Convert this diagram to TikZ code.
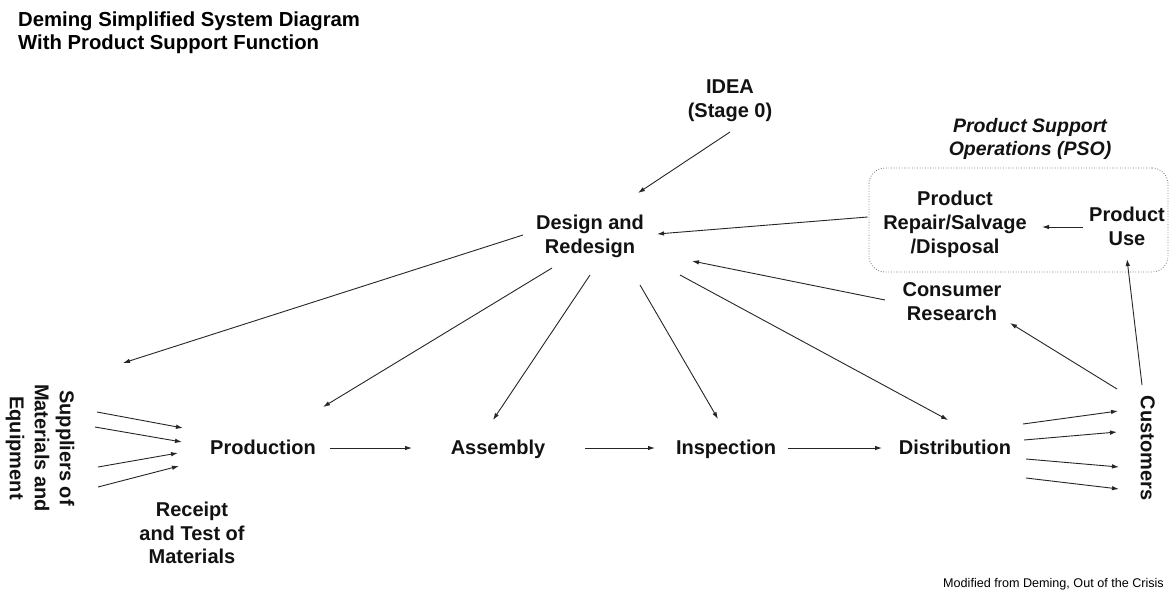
\documentclass[tikz,border=0pt]{standalone}
\usepackage{fontspec}
\setmainfont{Liberation Sans}
\usetikzlibrary{arrows.meta}
\begin{document}
\begin{tikzpicture}[x=1pt,y=-1pt,
  lbl/.style={font=\fontsize{20}{24}\selectfont\bfseries, align=center, inner sep=0pt, text=black!93},
  oneline/.style={text height=14.3pt, text depth=0pt},
  arr/.style={draw=black!85, line width=0.9pt, -{Latex[length=7pt,width=4.5pt]}},
  psoframe/.style={draw=black!55, line width=0.8pt, dash pattern=on 0.8pt off 1.8pt, rounded corners=16pt}]
\useasboundingbox (0,0) rectangle (1172,590);
\fill[white] (0,0) rectangle (1172,590);

% titles
\node[anchor=north west, inner sep=0pt, align=left, font=\fontsize{20.3}{22.5}\selectfont\bfseries] (title) at (18,12)
  {Deming Simplified System Diagram\\With Product Support Function};
\node[anchor=base east, inner sep=0pt, font=\fontsize{12.6}{15}\selectfont] (credit) at (1164,587)
  {Modified from Deming, Out of the Crisis};

% nodes
\node[lbl] (idea) at (730,101) {IDEA\\(Stage 0)};
\node[lbl] (design) at (590,236) {Design and\\Redesign};
\node[lbl, font=\fontsize{19.5}{23}\selectfont\bfseries\itshape] (psotitle) at (1030,139) {Product Support\\Operations (PSO)};
\node[psoframe, minimum width=299pt, minimum height=104pt, inner sep=0pt] (psobox) at (1018.5,220) {};
\node[lbl] (repair) at (955,224) {Product\\Repair/Salvage\\/Disposal};
\node[lbl] (use) at (1127,226) {Product\\Use};
\node[lbl] (consumer) at (952,302) {Consumer\\Research};
\node[lbl, rotate=-90, font=\fontsize{20}{25}\selectfont\bfseries] (suppliers) at (40,448) {Suppliers of\\Materials and\\Equipment};
\node[lbl, oneline] (production) at (263,447) {Production};
\node[lbl, oneline] (assembly) at (498,447) {Assembly};
\node[lbl, oneline] (inspection) at (726,447) {Inspection};
\node[lbl, oneline] (distribution) at (955,447) {Distribution};
\node[lbl, oneline, rotate=-90] (customers) at (1148,448) {Customers};
\node[lbl, font=\fontsize{20}{23.5}\selectfont\bfseries] (receipt) at (192,533) {Receipt\\and Test of\\Materials};

% connectors
\draw[arr] ([shift={(0,31)}]idea.center) -- ([shift={(48,-43)}]design.center);
\draw[arr] ([shift={(-1,-3)}]psobox.west) -- ([shift={(67,-2)}]design.center);
\draw[arr] ([shift={(-44,1)}]use.center) -- ([shift={(87,3)}]repair.center);
\draw[arr] ([shift={(-6,-63)}]customers.center) -- ([shift={(0,33)}]use.center);
\draw[arr] ([shift={(-31,-59)}]customers.center) -- ([shift={(58,21)}]consumer.center);
\draw[arr] ([shift={(-67,-2)}]consumer.center) -- ([shift={(102,25)}]design.center);

\draw[arr] ([shift={(-67,-1)}]design.center) -- ([shift={(83,-85)}]suppliers.center);
\draw[arr] ([shift={(-38,32)}]design.center) -- ([shift={(60,-40)}]production.center);
\draw[arr] ([shift={(0,39)}]design.center) -- ([shift={(-5,-27)}]assembly.center);
\draw[arr] ([shift={(50,49)}]design.center) -- ([shift={(-8,-28)}]inspection.center);
\draw[arr] ([shift={(90,39)}]design.center) -- ([shift={(-7,-27)}]distribution.center);

\draw[arr] ([shift={(67,1)}]production.center) -- ([shift={(-86,1)}]assembly.center);
\draw[arr] ([shift={(87,1)}]assembly.center) -- ([shift={(-71,1)}]inspection.center);
\draw[arr] ([shift={(62,1)}]inspection.center) -- ([shift={(-73,1)}]distribution.center);

% supplier fan
\draw[arr] ([shift={(57,-36)}]suppliers.center) -- ([shift={(-80,-19)}]production.center);
\draw[arr] ([shift={(55,-21)}]suppliers.center) -- ([shift={(-81,-5)}]production.center);
\draw[arr] ([shift={(58,19)}]suppliers.center) -- ([shift={(-85,6)}]production.center);
\draw[arr] ([shift={(58,39)}]suppliers.center) -- ([shift={(-84,19)}]production.center);

% customer fan
\draw[arr] ([shift={(68,-23)}]distribution.center) -- ([shift={(-30,-37)}]customers.center);
\draw[arr] ([shift={(69,-7)}]distribution.center) -- ([shift={(-31,-16)}]customers.center);
\draw[arr] ([shift={(71,12)}]distribution.center) -- ([shift={(-29,19)}]customers.center);
\draw[arr] ([shift={(71,31)}]distribution.center) -- ([shift={(-29,41)}]customers.center);
\end{tikzpicture}
\end{document}
